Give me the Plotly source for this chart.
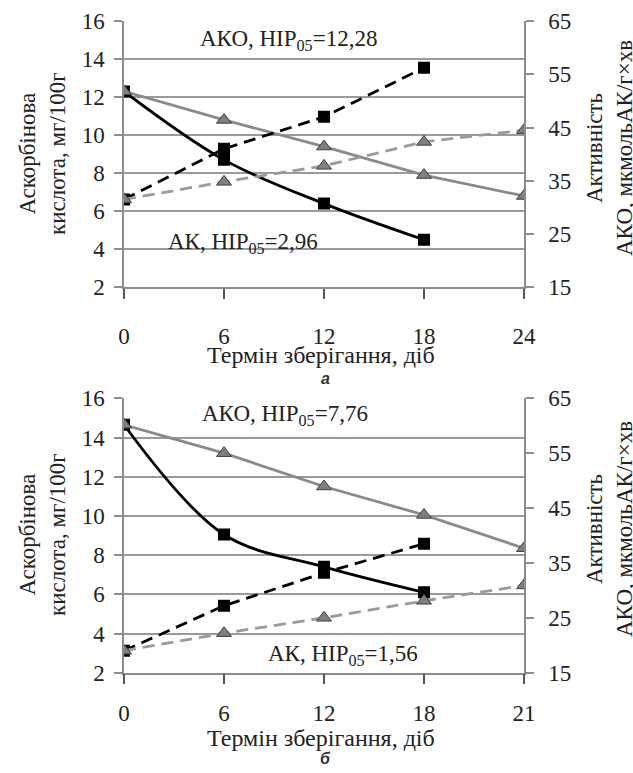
import plotly.graph_objects as go

# ---------------- data ----------------
days_a = ["0", "6", "12", "18", "24"]
ak_black_a = [12.3, 8.7, 6.4, 4.5]          # left axis, mg/100g
ako_black_a = [31.5, 41.0, 47.0, 56.2]      # right axis
ak_gray_a = [12.3, 10.8, 9.4, 7.9, 6.8]     # left axis
ako_gray_a = [31.5, 34.8, 37.8, 42.3, 44.5] # right axis

days_b = ["0", "6", "12", "18", "21"]
ak_black_b = [14.65, 9.05, 7.4, 6.1]
ako_black_b = [19.0, 27.2, 33.2, 38.5]
ak_gray_b = [14.65, 13.2, 11.5, 10.05, 8.35]
ako_gray_b = [19.0, 22.2, 25.0, 28.1, 30.9]

left_ticks = [2, 4, 6, 8, 10, 12, 14, 16]
right_ticks = [15, 25, 35, 45, 55, 65]

ann_a_top = "АКО, НІР<sub>05</sub>=12,28"
ann_a_bot = "АК, НІР<sub>05</sub>=2,96"
ann_b_top = "АКО, НІР<sub>05</sub>=7,76"
ann_b_bot = "АК, НІР<sub>05</sub>=1,56"

left_title = "Аскорбінова<br>кислота, мг/100г"
right_title = "Активність<br>АКО, мкмольАК/г×хв"
x_title = "Термін зберігання, діб"

# ---------------- layout helpers ----------------
W, H = 633, 773
def px(x):
    return x / W
def py(y):
    return 1 - y / H

FONT = "Liberation Serif"
GRID = "#9a9a9a"
AXIS = "#8c8c8c"
TXT = "#222222"
DASH = "12px,7px"

fig = go.Figure()

def add_panel(days, akb, akob, akg, akog, xa, ya, ya2):
    n_b = len(akb)
    fig.add_trace(go.Scatter(x=days[:n_b], y=akb, mode="lines+markers",
                             line=dict(color="black", width=2.8, shape="spline", smoothing=1.0),
                             marker=dict(symbol="square", size=12, color="black"),
                             xaxis=xa, yaxis=ya, showlegend=False))
    fig.add_trace(go.Scatter(x=days[:n_b], y=akob, mode="lines+markers",
                             line=dict(color="black", width=2.8, dash=DASH),
                             marker=dict(symbol="square", size=12, color="black"),
                             xaxis=xa, yaxis=ya2, showlegend=False))
    fig.add_trace(go.Scatter(x=days, y=akg, mode="lines+markers",
                             line=dict(color="#8a8a8a", width=2.8),
                             marker=dict(symbol="triangle-up", size=13, color="#7f7f7f",
                                         line=dict(color="#404040", width=1)),
                             xaxis=xa, yaxis=ya, showlegend=False))
    fig.add_trace(go.Scatter(x=days, y=akog, mode="lines+markers",
                             line=dict(color="#9a9a9a", width=2.8, dash=DASH),
                             marker=dict(symbol="triangle-up", size=13, color="#7f7f7f",
                                         line=dict(color="#404040", width=1)),
                             xaxis=xa, yaxis=ya2, showlegend=False))

add_panel(days_a, ak_black_a, ako_black_a, ak_gray_a, ako_gray_a, "x", "y", "y2")
add_panel(days_b, ak_black_b, ako_black_b, ak_gray_b, ako_gray_b, "x2", "y3", "y4")

xdom = [px(124), px(524)]
dom_a = [py(287.3), py(21)]
dom_b = [py(672.7), py(398.3)]

tickfont = dict(family=FONT, size=23, color=TXT)

def xaxis_cfg(days, anchor, standoff):
    return dict(domain=xdom, anchor=anchor, type="category", categoryorder="array",
                categoryarray=days, range=[0, len(days) - 1],
                showgrid=False, zeroline=False, showline=True, linecolor=AXIS, linewidth=1.5,
                ticks="outside", ticklen=10, tickwidth=1.5, tickcolor="#555",
                tickfont=tickfont, ticklabelstandoff=standoff)

def yleft_cfg(dom, anchor):
    return dict(domain=dom, anchor=anchor, range=[2, 16], tickvals=left_ticks,
                showgrid=True, gridcolor=GRID, gridwidth=1.5, zeroline=False,
                showline=True, linecolor=AXIS, linewidth=1.5,
                ticks="outside", ticklen=8, tickwidth=1.5, tickcolor=AXIS,
                tickfont=tickfont, ticklabelstandoff=5)

def yright_cfg(dom, anchor, overlay):
    return dict(domain=dom, anchor=anchor, overlaying=overlay, side="right",
                range=[15, 65], tickvals=right_ticks,
                showgrid=False, zeroline=False,
                showline=True, linecolor=AXIS, linewidth=1.5,
                ticks="outside", ticklen=8, tickwidth=1.5, tickcolor=AXIS,
                tickfont=tickfont, ticklabelstandoff=10)

fig.update_layout(
    width=W, height=H,
    margin=dict(l=0, r=0, t=0, b=0, autoexpand=False),
    paper_bgcolor="white", plot_bgcolor="white",
    font=dict(family=FONT, color=TXT),
    xaxis=xaxis_cfg(days_a, "y", 17),
    yaxis=yleft_cfg(dom_a, "x"),
    yaxis2=yright_cfg(dom_a, "x", "y"),
    xaxis2=xaxis_cfg(days_b, "y3", 9),
    yaxis3=yleft_cfg(dom_b, "x2"),
    yaxis4=yright_cfg(dom_b, "x2", "y3"),
)

annfont = dict(family=FONT, size=23, color=TXT)
def ann(text, x, y, **kw):
    d = dict(text=text, x=px(x), y=py(y), xref="paper", yref="paper",
             xanchor="center", yanchor="middle",
             showarrow=False, font=annfont)
    d.update(kw)
    fig.add_annotation(**d)

# series labels
ann(ann_a_top, 288, 40)
ann(ann_a_bot, 243, 243)
ann(ann_b_top, 285, 415)
ann(ann_b_bot, 343, 655)

titlefont = dict(family=FONT, size=23, color=TXT)
# axis titles
for yc in (154, 535):
    ann(left_title, 42, yc, textangle=-90, font=titlefont)
    ann(right_title, 609, yc - 6, textangle=-90, font=dict(family=FONT, size=23, color=TXT))
ann(x_title, 321, 355, font=dict(family=FONT, size=24, color=TXT))
ann(x_title, 321, 738, font=dict(family=FONT, size=24, color=TXT))

# panel letters
ann("<i><b>а</b></i>", 325, 378, font=dict(family="Liberation Sans", size=16, color="#333"))
ann("<i><b>б</b></i>", 325, 758, font=dict(family="Liberation Sans", size=16, color="#333"))

fig.write_html("out.html", config={"displayModeBar": False},
               post_script="document.body.style.margin='0';document.body.style.overflow='hidden';")
